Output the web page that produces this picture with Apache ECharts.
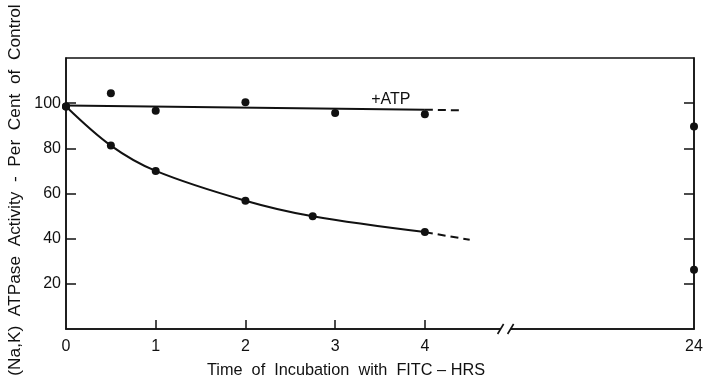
<!DOCTYPE html>
<html>
<head>
<meta charset="utf-8">
<script src="https://cdn.jsdelivr.net/npm/echarts@6/dist/echarts.min.js"></script>
<style>
  html, body { margin: 0; padding: 0; background: #fff; }
  #chart { width: 706px; height: 379px; }
</style>
</head>
<body>
<div id="chart"></div>
<script>
// Incubation time (hours) and (Na,K)-ATPase activity, % of control
const startHour = [0];
const startValue = [98.5];

const atpHours = [0.5, 1, 2, 3, 4];
const atpValues = [104.4, 96.6, 100.4, 95.7, 95.1];

const lossHours = [0.5, 1, 2, 2.75, 4];
const lossValues = [81.2, 70.0, 56.8, 49.9, 42.9];

// 24 h readings (with ATP, without ATP)
const lateHour = 24;
const lateValues = [89.7, 26.2];

// Fitted curves: solid over the measured range, dashed beyond it
const atpFitHours = [0, 4];
const atpFitValues = [99.0, 97.1];
const atpExtHours = [4, 4.4];
const atpExtValues = [97.1, 96.8];

const lossExtHours = [4, 4.5];
const lossExtValues = [42.9, 39.5];

// Tick labels on the time axis
const timeTicks = [0, 1, 2, 3, 4];
const yTicks = [20, 40, 60, 80, 100];

// The time axis is broken after 4 h; 24 h sits at the far end.
const breakAt = 4.9;
const lateSlot = 7;
const place = h => (h === lateHour ? lateSlot : h);
const pairs = (xs, ys) => xs.map((x, i) => [place(x), ys[i]]);

const INK = '#111';
const FONT = 'Liberation Sans';

const chart = echarts.init(document.getElementById('chart'), null, { renderer: 'canvas' });

const lossCurve = pairs(startHour, startValue).concat(pairs(lossHours, lossValues));
const atpPoints = pairs(startHour, startValue).concat(pairs(atpHours, atpValues));
const latePoints = lateValues.map(v => [place(lateHour), v]);

const dot = { color: INK, opacity: 1 };

chart.setOption({
  animation: false,
  backgroundColor: '#fff',
  grid: {
    left: 66, right: 12, top: 58, bottom: 50,
    outerBoundsMode: 'none', containLabel: false,
    show: true, borderColor: INK, borderWidth: 1.5
  },
  xAxis: {
    type: 'value', min: 0, max: lateSlot, interval: 1,
    splitLine: { show: false },
    axisLine: { show: true, lineStyle: { color: INK, width: 1.5 } },
    axisTick: { show: true, inside: true, length: 9, customValues: timeTicks.slice(1), lineStyle: { color: INK, width: 1.5 } },
    axisLabel: {
      customValues: timeTicks.concat([lateSlot]),
      formatter: v => (v === lateSlot ? String(lateHour) : String(v)),
      color: INK, fontFamily: FONT, fontSize: 16, margin: 10
    },
    name: 'Time  of  Incubation  with  FITC – HRS',
    nameLocation: 'middle', nameGap: 34,
    nameTextStyle: { color: INK, fontFamily: FONT, fontSize: 16.3, padding: [0, 68, 0, 0] }
  },
  yAxis: [{
    type: 'value', min: 0, max: 120, interval: 20, position: 'left',
    splitLine: { show: false },
    axisLine: { show: true, lineStyle: { color: INK, width: 1.5 } },
    axisTick: { show: true, inside: true, length: 10, customValues: yTicks, lineStyle: { color: INK, width: 1.5 } },
    axisLabel: { customValues: yTicks, color: INK, fontFamily: FONT, fontSize: 16, margin: 5 },
    name: '(Na,K)  ATPase  Activity  -  Per  Cent  of  Control',
    nameLocation: 'middle', nameGap: 38,
    nameTextStyle: { color: INK, fontFamily: FONT, fontSize: 17.3, padding: [0, 0, 0, 7] }
  }, {
    type: 'value', min: 0, max: 120, interval: 20, position: 'right',
    splitLine: { show: false },
    axisLine: { show: true, lineStyle: { color: INK, width: 1.5 } },
    axisTick: { show: true, inside: true, length: 10, customValues: yTicks, lineStyle: { color: INK, width: 1.5 } },
    axisLabel: { show: false }
  }],
  series: [
    {
      name: 'fit +ATP', type: 'line', data: pairs(atpFitHours, atpFitValues),
      symbol: 'none', lineStyle: { color: INK, width: 2 },
      markPoint: {
        symbol: 'circle', symbolSize: 0,
        label: { show: true, formatter: '+ATP', color: INK, fontFamily: FONT, fontSize: 16, position: 'inside' },
        data: [{ coord: [3.62, 101.5] }]
      }
    },
    {
      name: 'fit +ATP ext', type: 'line', data: pairs(atpExtHours, atpExtValues),
      symbol: 'none', lineStyle: { color: INK, width: 2, type: [8, 5] }
    },
    {
      name: 'loss', type: 'line', data: lossCurve, smooth: 0.35,
      symbol: 'circle', symbolSize: 8, showSymbol: true,
      itemStyle: dot, lineStyle: { color: INK, width: 2 }
    },
    {
      name: 'loss ext', type: 'line', data: pairs(lossExtHours, lossExtValues),
      symbol: 'none', lineStyle: { color: INK, width: 2, type: [8, 5] }
    },
    {
      name: '+ATP', type: 'scatter', data: atpPoints,
      symbol: 'circle', symbolSize: 8, itemStyle: dot
    },
    {
      name: '24 h', type: 'scatter', data: latePoints,
      symbol: 'circle', symbolSize: 8, itemStyle: dot
    },
    {
      // "//" break mark on the time axis
      name: 'break', type: 'custom', clip: false, silent: true, z: 5,
      data: [[breakAt, 0]],
      renderItem: (params, api) => {
        const p = api.coord([api.value(0), api.value(1)]);
        const line = dx => ({
          type: 'line',
          shape: { x1: p[0] + dx - 3, y1: p[1] + 5, x2: p[0] + dx + 3, y2: p[1] - 5 },
          style: { stroke: INK, lineWidth: 1.6 }
        });
        return {
          type: 'group',
          children: [
            { type: 'rect', shape: { x: p[0] - 5, y: p[1] - 3, width: 10, height: 6 }, style: { fill: '#fff' } },
            line(-5), line(5)
          ]
        };
      }
    }
  ]
});
</script>
</body>
</html>
